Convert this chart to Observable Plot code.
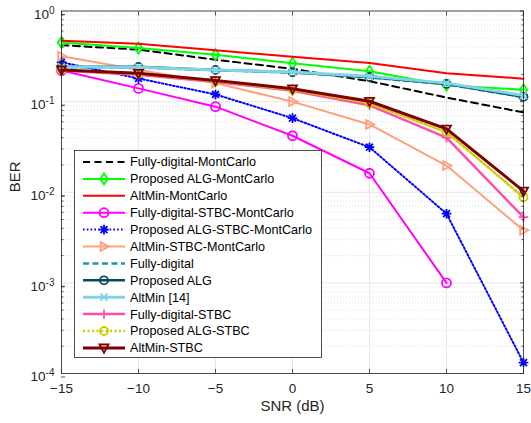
<!DOCTYPE html>
<html><head><meta charset="utf-8">
<script src="https://cdn.jsdelivr.net/npm/d3@7"></script>
<script src="https://cdn.jsdelivr.net/npm/@observablehq/plot@0.6"></script>
<style>
body{margin:0;background:#fff;}
#wrap{position:relative;width:531px;height:423px;font-family:"Liberation Sans",Arial,Helvetica,sans-serif;}
#legend{position:absolute;left:74px;top:150px;}
</style></head><body><div id="wrap"></div>
<script>
// ---- data ----
const snr = [-15, -10, -5, 0, 5, 10, 15];
const xTicks = [-15, -10, -5, 0, 5, 10, 15];
const yDecades = [0, -1, -2, -3, -4];

const fullyDigitalMC      = [0.42, 0.375, 0.29, 0.23, 0.168, 0.111, 0.076];
const proposedMC          = [0.45, 0.39, 0.33, 0.265, 0.216, 0.152, 0.135];
const altMinMC            = [0.47, 0.435, 0.37, 0.312, 0.267, 0.206, 0.179];
const fullyDigitalSTBCMC  = [0.22, 0.14, 0.088, 0.042, 0.0162, 0.001];
const proposedSTBCMC      = [0.272, 0.18, 0.12, 0.0657, 0.0314, 0.0058, 0.000132];
const altMinSTBCMC        = [0.317, 0.225, 0.16, 0.1, 0.056, 0.0197, 0.0038];
const fullyDigital        = [0.24, 0.238, 0.222, 0.209, 0.185, 0.155, 0.112];
const proposedALG         = [0.243, 0.242, 0.224, 0.211, 0.187, 0.157, 0.113];
const altMin14            = [0.242, 0.24, 0.223, 0.212, 0.19, 0.16, 0.117];
const fullyDigitalSTBC    = [0.22, 0.198, 0.165, 0.132, 0.091, 0.04, 0.0053];
const proposedSTBC        = [0.222, 0.203, 0.168, 0.135, 0.096, 0.046, 0.0088];
const altMinSTBC          = [0.224, 0.206, 0.171, 0.139, 0.101, 0.05, 0.0103];

// ---- marker shapes (d3 symbol types) ----
const R = s => Math.sqrt(s / Math.PI);
const symDiamond = {draw(c, s){const r=R(s); c.moveTo(0,-r*1.25); c.lineTo(r*0.85,0); c.lineTo(0,r*1.25); c.lineTo(-r*0.85,0); c.closePath();}};
const symCircle = {draw(c, s){const r=R(s); c.moveTo(r,0); c.arc(0,0,r,0,2*Math.PI);}};
const symTriRight = {draw(c, s){const r=R(s); c.moveTo(r*1.1,0); c.lineTo(-r*0.75,-r*1.0); c.lineTo(-r*0.75,r*1.0); c.closePath();}};
const symTriDown = {draw(c, s){const r=R(s); c.moveTo(0,r*1.1); c.lineTo(-r*1.0,-r*0.75); c.lineTo(r*1.0,-r*0.75); c.closePath();}};
const symAsterisk = {draw(c, s){const r=R(s); const d=r*0.72; c.moveTo(-r,0); c.lineTo(r,0); c.moveTo(0,-r); c.lineTo(0,r); c.moveTo(-d,-d); c.lineTo(d,d); c.moveTo(-d,d); c.lineTo(d,-d);}};
const symPlus = {draw(c, s){const r=R(s); c.moveTo(-r,0); c.lineTo(r,0); c.moveTo(0,-r); c.lineTo(0,r);}};
const symX = {draw(c, s){const r=R(s)*0.8; c.moveTo(-r,-r); c.lineTo(r,r); c.moveTo(-r,r); c.lineTo(r,-r);}};

const series = [
  {name: "Fully-digital-MontCarlo", values: fullyDigitalMC, color: "#000000", width: 2, dash: "7,4.5", symbol: null},
  {name: "Proposed ALG-MontCarlo", values: proposedMC, color: "#00ff00", width: 2, dash: null, symbol: symDiamond, r: 4.4},
  {name: "AltMin-MontCarlo", values: altMinMC, color: "#ff0000", width: 2, dash: null, symbol: null},
  {name: "Fully-digital-STBC-MontCarlo", values: fullyDigitalSTBCMC, color: "#ff00ff", width: 2, dash: null, symbol: symCircle, r: 4.5},
  {name: "Proposed ALG-STBC-MontCarlo", values: proposedSTBCMC, color: "#0000ff", width: 2, dash: "1.6,2.2", symbol: symAsterisk, r: 4.8},
  {name: "AltMin-STBC-MontCarlo", values: altMinSTBCMC, color: "#ffa07a", width: 2, dash: null, symbol: symTriRight, r: 4.4},
  {name: "Fully-digital", values: fullyDigital, color: "#1a99ab", width: 2.5, dash: "6,3.5", symbol: null},
  {name: "Proposed ALG", values: proposedALG, color: "#0b4a5c", width: 2.5, dash: null, symbol: symCircle, r: 4},
  {name: "AltMin [14]", values: altMin14, color: "#80d4e8", width: 3, dash: null, symbol: symX, r: 4.4},
  {name: "Fully-digital-STBC", values: fullyDigitalSTBC, color: "#ff4fa8", width: 2.5, dash: null, symbol: symPlus, r: 4.7},
  {name: "Proposed ALG-STBC", values: proposedSTBC, color: "#cccc00", width: 2.5, dash: "2,2.5", symbol: symCircle, r: 4},
  {name: "AltMin-STBC", values: altMinSTBC, color: "#7f0000", width: 3, dash: null, symbol: symTriDown, r: 4.5}
];

const rowsOf = s => s.values.map((v, i) => ({x: snr[i], y: v}));

const majorY = yDecades.map(e => Math.pow(10, e));
const minorY = [];
for (const e of yDecades.slice(1)) for (let m = 2; m <= 9; m++) minorY.push(m * Math.pow(10, e));

const axisColor = "#262626";
const marks = [
  Plot.ruleY(minorY, {stroke: "#d9d9d9", strokeDasharray: "1,2", strokeWidth: 0.8}),
  Plot.ruleY(majorY, {stroke: "#dfdfdf", strokeWidth: 0.8}),
  Plot.ruleX(xTicks, {stroke: "#dfdfdf", strokeWidth: 0.8})
];
for (const s of series) {
  marks.push(Plot.line(rowsOf(s), {x: "x", y: "y", stroke: s.color, strokeWidth: s.width, strokeDasharray: s.dash, strokeLinejoin: "round"}));
  if (s.symbol) marks.push(Plot.dot(rowsOf(s), {x: "x", y: "y", symbol: s.symbol, r: s.r, stroke: s.color, strokeWidth: 1.8, fill: "none"}));
}
marks.push(
  Plot.frame({stroke: axisColor, strokeWidth: 0.8}),
  Plot.axisX(xTicks, {tickSize: -4, tickPadding: 14, stroke: axisColor, fill: axisColor, fontSize: 13.5, label: null, strokeWidth: 0.8}),
  Plot.axisX(xTicks, {anchor: "top", tickSize: -4, tickFormat: () => "", stroke: axisColor, label: null, strokeWidth: 0.8}),
  Plot.axisY(majorY, {tickSize: -4, tickPadding: 11, dy: 3.5, stroke: axisColor, fill: axisColor, fontSize: 13.5, label: null, strokeWidth: 0.8,
    tickFormat: d => "10^" + Math.round(Math.log10(d))}),
  Plot.axisY(majorY, {anchor: "right", tickSize: -4, tickFormat: () => "", stroke: axisColor, label: null, strokeWidth: 0.8}),
  Plot.axisY(minorY, {tickSize: -2.5, tickFormat: () => "", stroke: axisColor, label: null, strokeWidth: 0.8}),
  Plot.axisY(minorY, {anchor: "right", tickSize: -2.5, tickFormat: () => "", stroke: axisColor, label: null, strokeWidth: 0.8}),
  Plot.text(["SNR (dB)"], {frameAnchor: "bottom", dy: 37, fontSize: 15, fill: axisColor}),
  Plot.text(["BER"], {frameAnchor: "left", dx: -46, rotate: -90, fontSize: 15, fill: axisColor})
);

const chart = Plot.plot({
  width: 531, height: 423,
  marginLeft: 61, marginRight: 8, marginTop: 10.5, marginBottom: 50,
  x: {domain: [-15, 15]},
  y: {type: "log", domain: [1e-4, 1]},
  style: {fontFamily: '"Liberation Sans", Arial, Helvetica, sans-serif', background: "white", color: axisColor},
  marks
});

// superscript exponents on y tick labels
d3.select(chart).selectAll('g[aria-label="y-axis tick label"] text').each(function() {
  const t = d3.select(this);
  const s = t.text();
  if (!s.includes("^")) return;
  const [base, exp] = s.split("^");
  t.text(base);
  t.append("tspan").attr("dy", "-0.5em").attr("font-size", "10px").text(exp);
});

const wrap = document.getElementById("wrap");
wrap.appendChild(chart);

// ---- legend ----
const rowH = 16.9, lw = 248, lh = 208;
const leg = d3.select(wrap).append("svg").attr("id", "legend").attr("width", lw).attr("height", lh)
  .style("font-family", '"Liberation Sans", Arial, Helvetica, sans-serif');
leg.append("rect").attr("x", 0.5).attr("y", 0.5).attr("width", lw - 1).attr("height", lh - 1)
  .attr("fill", "white").attr("stroke", axisColor).attr("stroke-width", 0.8);
series.forEach((s, i) => {
  const cy = 12 + i * rowH;
  const g = leg.append("g").attr("transform", `translate(0,${cy})`);
  g.append("line").attr("x1", 9).attr("x2", 51).attr("y1", 0).attr("y2", 0)
    .attr("stroke", s.color).attr("stroke-width", s.width).attr("stroke-dasharray", s.dash);
  if (s.symbol) g.append("path").attr("transform", "translate(30,0)")
    .attr("d", d3.symbol(s.symbol, s.r * s.r * Math.PI)()).attr("fill", "none")
    .attr("stroke", s.color).attr("stroke-width", 1.8);
  g.append("text").attr("x", 56).attr("y", 0).attr("dy", "0.35em").attr("font-size", "12.6px")
    .attr("fill", "#000").text(s.name);
});
</script>
</body></html>
